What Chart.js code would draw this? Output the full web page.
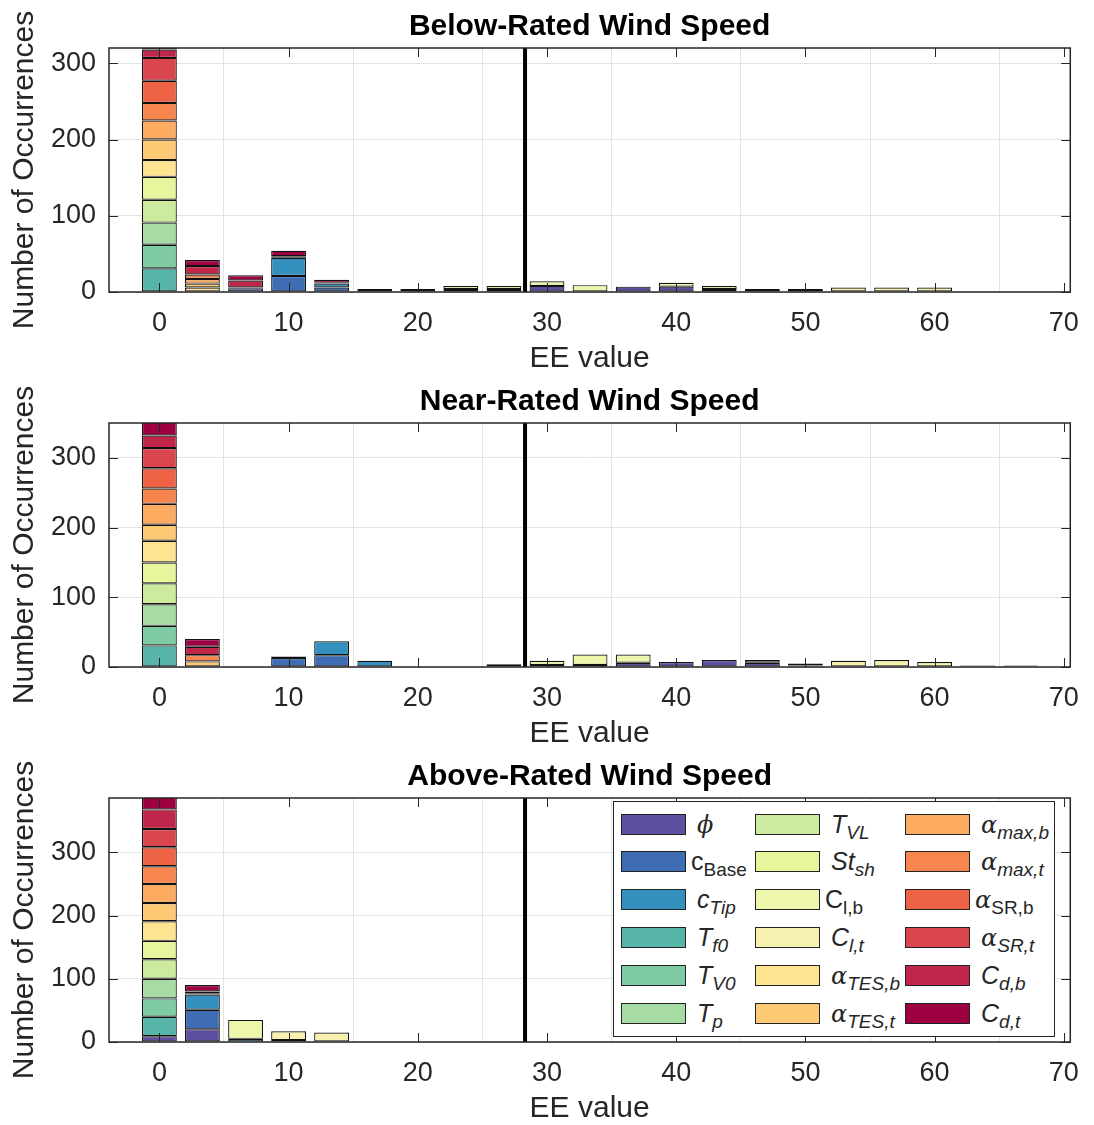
<!DOCTYPE html>
<html>
<head>
<meta charset="utf-8">
<title>Elementary effects histograms</title>
<script src="https://cdn.jsdelivr.net/npm/chart.js@4.4.1/dist/chart.umd.min.js"></script>
<style>
  body { margin: 0; background: #fff; }
  #page { position: relative; width: 1094px; height: 1125px; }
  .panel { position: absolute; left: 0; width: 1094px; height: 375px; }
  #legend {
    position: absolute; left: 613px; top: 801px; width: 442px; height: 236px;
    box-sizing: border-box; border: 1px solid #262626; background: #fff;
    font-family: "Liberation Sans", Arial, Helvetica, sans-serif; color: #262626;
  }
  .item { position: absolute; display: flex; align-items: center; height: 24px; }
  .swatch { width: 65px; height: 21px; box-sizing: border-box; border: 1px solid #222; flex: none; }
  .lbl { font-size: 25px; line-height: 1; white-space: nowrap; }
  .lbl .greek { font-family: "DejaVu Serif", "Liberation Serif", serif; font-style: italic; font-size: 24px; }
  .lbl .it { font-style: italic; }
  .lbl sub { font-size: 19px; vertical-align: baseline; position: relative; top: 6px; }
</style>
</head>
<body>
<div id="page">
  <div class="panel" style="top:0"><canvas id="below" width="1094" height="375"></canvas></div>
  <div class="panel" style="top:375px"><canvas id="near" width="1094" height="375"></canvas></div>
  <div class="panel" style="top:750px"><canvas id="above" width="1094" height="375"></canvas></div>
  <div id="legend"></div>
</div>
<script>
// EE bin centres (bin width 10/3) and axis ticks
const binCenters = [0, 3.33, 6.67, 10, 13.33, 16.67, 20, 23.33, 26.67, 30, 33.33, 36.67, 40, 43.33, 46.67, 50, 53.33, 56.67, 60, 63.33, 66.67];
const xTicks = [0, 10, 20, 30, 40, 50, 60, 70];
const yTicks = [0, 100, 200, 300];
const eeThreshold = 28.3;

const panelTitles = ['Below-Rated Wind Speed', 'Near-Rated Wind Speed', 'Above-Rated Wind Speed'];
const panelYMax = [320, 350, 386];

// Parameters (legend order)
const paramSymbols = ['ϕ', 'c', 'c', 'T', 'T', 'T', 'T', 'St', 'C', 'C', 'α', 'α', 'α', 'α', 'α', 'α', 'C', 'C'];
const paramSubs = ['', 'Base', 'Tip', 'f0', 'V0', 'p', 'VL', 'sh', 'l,b', 'l,t', 'TES,b', 'TES,t', 'max,b', 'max,t', 'SR,b', 'SR,t', 'd,b', 'd,t'];
const paramItalic = [1, 0, 1, 1, 1, 1, 1, 1, 0, 1, 1, 1, 1, 1, 0, 1, 1, 1];
const paramColors = ['#5e4fa2', '#3f6db3', '#3490be', '#56b4a9', '#7ecba4', '#a7dba4', '#cdeb9f', '#e8f59c', '#eef6ab',
  '#f7f1b0', '#fee391', '#fec974', '#fcab60', '#f7854e', '#ee6346', '#da464d', '#c0264a', '#9e0142'];

// Number of occurrences, one row per parameter, one column per EE bin
const belowCounts = [
  [0, 0, 0, 0, 0, 0, 0, 4, 4, 8, 0, 7, 7, 4, 0, 0, 0, 0, 0, 0, 0],     // phi
  [0, 0, 5, 21, 6, 0, 0, 0, 0, 0, 0, 0, 0, 0, 0, 0, 0, 0, 0, 0, 0],     // cBase
  [0, 0, 1, 24, 5, 0, 0, 0, 0, 0, 0, 0, 0, 0, 0, 0, 0, 0, 0, 0, 0],     // cTip
  [31, 0, 0, 0, 1, 0, 0, 0, 0, 0, 0, 0, 0, 0, 0, 0, 0, 0, 0, 0, 0],     // Tf0
  [31, 0, 0, 0, 0, 0, 0, 0, 0, 0, 0, 0, 0, 0, 0, 0, 0, 0, 0, 0, 0],     // TV0
  [29, 0, 0, 0, 0, 0, 0, 0, 0, 0, 0, 0, 0, 0, 0, 0, 0, 0, 0, 0, 0],     // Tp
  [30, 0, 0, 0, 0, 0, 0, 0, 0, 0, 0, 0, 0, 0, 0, 0, 0, 0, 0, 0, 0],     // TVL
  [30, 0, 0, 0, 0, 0, 0, 0, 0, 0, 0, 0, 0, 0, 0, 0, 0, 0, 0, 0, 0],     // St_sh
  [0, 0, 0, 0, 0, 4, 4, 4, 4, 6, 9, 0, 5, 4, 0, 0, 0, 0, 0, 0, 0],      // Cl,b
  [0, 0, 0, 0, 0, 0, 0, 0, 0, 0, 0, 0, 0, 0, 4, 4, 6, 6, 6, 0, 0],      // Cl,t
  [22, 6, 0, 0, 0, 0, 0, 0, 0, 0, 0, 0, 0, 0, 0, 0, 0, 0, 0, 0, 0],     // aTES,b
  [27, 5, 0, 0, 0, 0, 0, 0, 0, 0, 0, 0, 0, 0, 0, 0, 0, 0, 0, 0, 0],     // aTES,t
  [25, 6, 0, 0, 0, 0, 0, 0, 0, 0, 0, 0, 0, 0, 0, 0, 0, 0, 0, 0, 0],     // amax,b
  [23, 6, 0, 0, 0, 0, 0, 0, 0, 0, 0, 0, 0, 0, 0, 0, 0, 0, 0, 0, 0],     // amax,t
  [29, 0, 0, 0, 0, 0, 0, 0, 0, 0, 0, 0, 0, 0, 0, 0, 0, 0, 0, 0, 0],     // aSR,b
  [30, 0, 0, 0, 0, 0, 0, 0, 0, 0, 0, 0, 0, 0, 0, 0, 0, 0, 0, 0, 0],     // aSR,t
  [11, 11, 9, 2, 0, 0, 0, 0, 0, 0, 0, 0, 0, 0, 0, 0, 0, 0, 0, 0, 0],    // Cd,b
  [20, 8, 7, 7, 4, 0, 0, 0, 0, 0, 0, 0, 0, 0, 0, 0, 0, 0, 0, 0, 0]      // Cd,t
];

const nearCounts = [
  [0, 0, 0, 0, 0, 0, 0, 0, 0, 3, 3, 6, 7, 10, 6, 2, 0, 0, 0, 2, 2],     // phi
  [0, 0, 0, 13, 17, 0, 0, 0, 0, 0, 0, 0, 0, 0, 0, 0, 0, 0, 0, 0, 0],    // cBase
  [0, 0, 0, 2, 20, 9, 0, 0, 0, 0, 0, 0, 0, 0, 0, 0, 0, 0, 0, 0, 0],     // cTip
  [31, 0, 0, 0, 0, 0, 0, 0, 0, 0, 0, 0, 0, 0, 0, 0, 0, 0, 0, 0, 0],     // Tf0
  [28, 0, 0, 0, 0, 0, 0, 0, 0, 0, 0, 0, 0, 0, 0, 0, 0, 0, 0, 0, 0],     // TV0
  [31, 0, 0, 0, 0, 0, 0, 0, 0, 0, 0, 0, 0, 0, 0, 0, 0, 0, 0, 0, 0],     // Tp
  [30, 0, 0, 0, 0, 0, 0, 0, 0, 0, 0, 0, 0, 0, 0, 0, 0, 0, 0, 0, 0],     // TVL
  [30, 0, 0, 0, 0, 0, 0, 0, 0, 0, 0, 0, 0, 0, 0, 0, 0, 0, 0, 0, 0],     // St_sh
  [0, 0, 0, 0, 0, 0, 0, 0, 0, 6, 15, 12, 0, 0, 4, 0, 0, 0, 0, 0, 0],    // Cl,b
  [0, 0, 0, 0, 0, 0, 0, 0, 4, 0, 0, 0, 0, 0, 0, 3, 9, 10, 7, 0, 0],     // Cl,t
  [31, 0, 0, 0, 0, 0, 0, 0, 0, 0, 0, 0, 0, 0, 0, 0, 0, 0, 0, 0, 0],     // aTES,b
  [23, 8, 0, 0, 0, 0, 0, 0, 0, 0, 0, 0, 0, 0, 0, 0, 0, 0, 0, 0, 0],     // aTES,t
  [30, 0, 0, 0, 0, 0, 0, 0, 0, 0, 0, 0, 0, 0, 0, 0, 0, 0, 0, 0, 0],     // amax,b
  [22, 9, 0, 0, 0, 0, 0, 0, 0, 0, 0, 0, 0, 0, 0, 0, 0, 0, 0, 0, 0],     // amax,t
  [29, 0, 0, 0, 0, 0, 0, 0, 0, 0, 0, 0, 0, 0, 0, 0, 0, 0, 0, 0, 0],     // aSR,b
  [29, 0, 0, 0, 0, 0, 0, 0, 0, 0, 0, 0, 0, 0, 0, 0, 0, 0, 0, 0, 0],     // aSR,t
  [18, 12, 0, 0, 0, 0, 0, 0, 0, 0, 0, 0, 0, 0, 0, 0, 0, 0, 0, 0, 0],    // Cd,b
  [25, 11, 1, 0, 0, 0, 0, 0, 0, 0, 0, 0, 0, 0, 0, 0, 0, 0, 0, 0, 0]     // Cd,t
];

const aboveCounts = [
  [9, 20, 0, 0, 0, 0, 0, 0, 0, 0, 0, 0, 0, 0, 0, 0, 0, 0, 0, 0, 0],     // phi
  [0, 31, 0, 0, 0, 0, 0, 0, 0, 0, 0, 0, 0, 0, 0, 0, 0, 0, 0, 0, 0],     // cBase
  [0, 24, 5, 0, 0, 0, 0, 0, 0, 0, 0, 0, 0, 0, 0, 0, 0, 0, 0, 0, 0],     // cTip
  [31, 0, 0, 0, 0, 0, 0, 0, 0, 0, 0, 0, 0, 0, 0, 0, 0, 0, 0, 0, 0],     // Tf0
  [29, 0, 0, 0, 0, 0, 0, 0, 0, 0, 0, 0, 0, 0, 0, 0, 0, 0, 0, 0, 0],     // TV0
  [31, 0, 0, 0, 0, 0, 0, 0, 0, 0, 0, 0, 0, 0, 0, 0, 0, 0, 0, 0, 0],     // Tp
  [31, 0, 0, 0, 0, 0, 0, 0, 0, 0, 0, 0, 0, 0, 0, 0, 0, 0, 0, 0, 0],     // TVL
  [29, 0, 0, 0, 0, 0, 0, 0, 0, 0, 0, 0, 0, 0, 0, 0, 0, 0, 0, 0, 0],     // St_sh
  [0, 0, 30, 3, 0, 0, 0, 0, 0, 0, 0, 0, 0, 0, 0, 0, 0, 0, 0, 0, 0],     // Cl,b
  [0, 0, 0, 14, 15, 0, 0, 0, 0, 0, 0, 0, 0, 0, 0, 0, 0, 0, 0, 0, 0],    // Cl,t
  [31, 0, 0, 0, 0, 0, 0, 0, 0, 0, 0, 0, 0, 0, 0, 0, 0, 0, 0, 0, 0],     // aTES,b
  [29, 0, 0, 0, 0, 0, 0, 0, 0, 0, 0, 0, 0, 0, 0, 0, 0, 0, 0, 0, 0],     // aTES,t
  [30, 0, 0, 0, 0, 0, 0, 0, 0, 0, 0, 0, 0, 0, 0, 0, 0, 0, 0, 0, 0],     // amax,b
  [28, 0, 0, 0, 0, 0, 0, 0, 0, 0, 0, 0, 0, 0, 0, 0, 0, 0, 0, 0, 0],     // amax,t
  [30, 2, 0, 0, 0, 0, 0, 0, 0, 0, 0, 0, 0, 0, 0, 0, 0, 0, 0, 0, 0],     // aSR,b
  [29, 0, 0, 0, 0, 0, 0, 0, 0, 0, 0, 0, 0, 0, 0, 0, 0, 0, 0, 0, 0],     // aSR,t
  [31, 3, 0, 0, 0, 0, 0, 0, 0, 0, 0, 0, 0, 0, 0, 0, 0, 0, 0, 0, 0],     // Cd,b
  [25, 10, 0, 0, 0, 0, 0, 0, 0, 0, 0, 0, 0, 0, 0, 0, 0, 0, 0, 0, 0]     // Cd,t
];

const axisColor = '#262626';
const gridColor = '#e3e3e3';
const fontFamily = '"Liberation Sans", Arial, Helvetica, sans-serif';

// MATLAB-style box with inward tick marks, drawn over the bars
const frameAndTicks = {
  id: 'frameAndTicks',
  afterDatasetsDraw(chart) {
    const {ctx, chartArea: a, scales: {x, y}} = chart;
    const len = 9;
    ctx.save();
    ctx.strokeStyle = axisColor;
    ctx.lineWidth = 1;
    ctx.beginPath();
    xTicks.forEach(v => {
      const px = Math.round(x.getPixelForValue(v)) + 0.5;
      ctx.moveTo(px, a.bottom);
      ctx.lineTo(px, a.bottom - len);
      ctx.moveTo(px, a.top);
      ctx.lineTo(px, a.top + len);
    });
    yTicks.forEach(v => {
      const py = Math.round(y.getPixelForValue(v)) + 0.5;
      ctx.moveTo(a.left, py);
      ctx.lineTo(a.left + len, py);
      ctx.moveTo(a.right, py);
      ctx.lineTo(a.right - len, py);
    });
    ctx.stroke();
    ctx.lineWidth = 1.5;
    ctx.strokeRect(a.left, a.top, a.right - a.left, a.bottom - a.top);
    ctx.restore();
  }
};

// y label drawn by hand so it is not squeezed to the axis height
const yTitle = {
  id: 'yTitle',
  afterDraw(chart, args, opts) {
    const {ctx, chartArea: a} = chart;
    ctx.save();
    ctx.translate(33, (a.top + a.bottom) / 2);
    ctx.rotate(-Math.PI / 2);
    ctx.font = '30px ' + fontFamily;
    ctx.fillStyle = axisColor;
    ctx.textAlign = 'center';
    ctx.textBaseline = 'alphabetic';
    ctx.fillText(opts.text, 0, 0);
    ctx.restore();
  }
};

function makePanel(canvasId, title, counts, yMax) {
  const datasets = counts.map((row, i) => ({
    label: paramSymbols[i] + paramSubs[i],
    data: row,
    backgroundColor: paramColors[i],
    borderColor: '#111',
    borderWidth: 1.2,
    borderSkipped: false,
    stack: 'ee',
    clip: 0,
    barPercentage: 0.81,
    categoryPercentage: 1
  }));

  // vertical threshold line
  datasets.push({
    type: 'line',
    label: 'threshold',
    data: [{x: eeThreshold, y: 0}, {x: eeThreshold, y: yMax}],
    borderColor: '#000',
    borderWidth: 4,
    pointRadius: 0,
    stack: 'threshold',
    order: -1
  });

  return new Chart(document.getElementById(canvasId), {
    type: 'bar',
    data: {labels: binCenters, datasets: datasets},
    plugins: [frameAndTicks, yTitle],
    options: {
      responsive: false,
      animation: false,
      layout: {padding: {left: 0, right: 18, top: 0, bottom: 0}},
      plugins: {
        legend: {display: false},
        tooltip: {enabled: false},
        title: {
          display: true,
          text: title,
          color: '#000',
          fullSize: false,
          font: {size: 30, weight: 'bold', family: fontFamily, lineHeight: 1.2},
          padding: {top: 9, bottom: 3}
        },
        yTitle: {text: 'Number of Occurrences'}
      },
      scales: {
        x: {
          type: 'linear',
          min: -3.9,
          max: 70.5,
          offset: false,
          afterBuildTicks: s => { s.ticks = xTicks.map(v => ({value: v})); },
          afterFit: s => { s.height = 83; },
          grid: {color: gridColor, drawTicks: false},
          border: {display: false},
          ticks: {padding: 15, color: axisColor, maxRotation: 0, autoSkip: false,
                  font: {size: 27, family: fontFamily}},
          title: {display: true, text: 'EE value', color: axisColor,
                  font: {size: 30, family: fontFamily, lineHeight: 1},
                  padding: {top: 0, bottom: 1}}
        },
        y: {
          stacked: true,
          min: 0,
          max: yMax,
          afterBuildTicks: s => { s.ticks = yTicks.map(v => ({value: v})); },
          afterFit: s => { s.width = 109; },
          grid: {color: gridColor, drawTicks: false},
          border: {display: false},
          ticks: {padding: 13, color: axisColor, font: {size: 27, family: fontFamily}}
        }
      }
    }
  });
}

makePanel('below', panelTitles[0], belowCounts, panelYMax[0]);
makePanel('near', panelTitles[1], nearCounts, panelYMax[1]);
makePanel('above', panelTitles[2], aboveCounts, panelYMax[2]);

// Legend with sub-scripted parameter names, three columns of six
const legendColX = [7, 141, 291];
const legend = document.getElementById('legend');
paramSymbols.forEach((sym, i) => {
  const col = Math.floor(i / 6);
  const row = i % 6;
  const item = document.createElement('div');
  item.className = 'item';
  item.style.left = legendColX[col] + 'px';
  item.style.top = (10 + row * 37.8) + 'px';

  const sw = document.createElement('div');
  sw.className = 'swatch';
  sw.style.background = paramColors[i];
  item.appendChild(sw);

  const lbl = document.createElement('span');
  lbl.className = 'lbl';
  lbl.style.marginLeft = (paramItalic[i] ? 11 : 5) + 'px';
  const greek = sym === 'α' || sym === 'ϕ';
  const symSpan = document.createElement('span');
  symSpan.textContent = sym;
  if (greek) symSpan.className = 'greek';
  else if (paramItalic[i]) symSpan.className = 'it';
  lbl.appendChild(symSpan);
  if (paramSubs[i]) {
    const sub = document.createElement('sub');
    sub.textContent = paramSubs[i];
    if (paramItalic[i]) sub.className = 'it';
    lbl.appendChild(sub);
  }
  item.appendChild(lbl);
  legend.appendChild(item);
});
</script>
</body>
</html>
